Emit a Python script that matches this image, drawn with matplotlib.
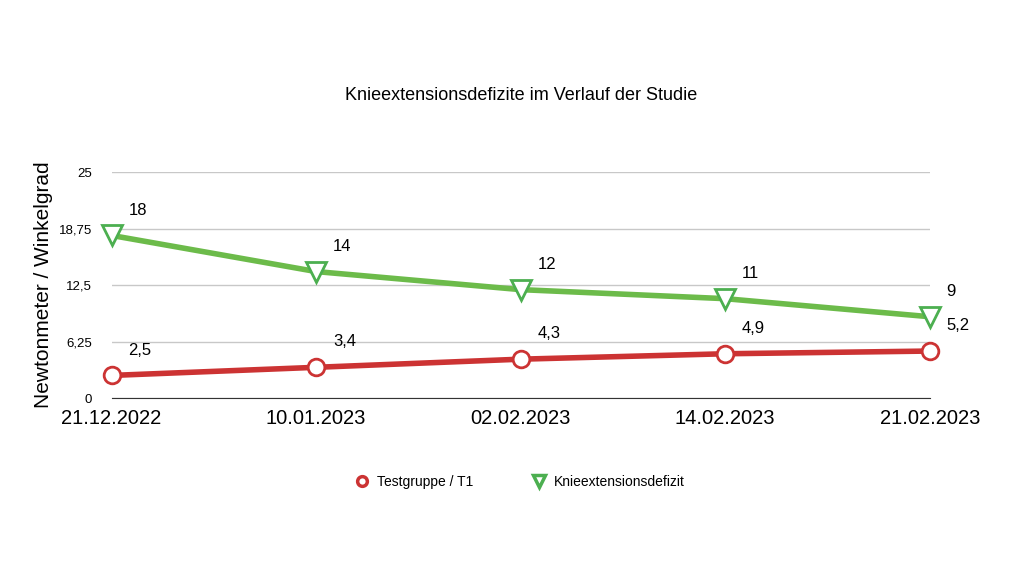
import matplotlib.pyplot as plt
from matplotlib.lines import Line2D
import numpy as np

dates = ['21.12.2022', '10.01.2023', '02.02.2023', '14.02.2023', '21.02.2023']
testgruppe = [2.5, 3.4, 4.3, 4.9, 5.2]
knie = [18, 14, 12, 11, 9]
testgruppe_labels = ['2,5', '3,4', '4,3', '4,9', '5,2']
knie_labels = ['18', '14', '12', '11', '9']
yticks = [0, 6.25, 12.5, 18.75, 25]
ytick_labels = ['0', '6,25', '12,5', '18,75', '25']

plt.rcParams['font.family'] = ['Liberation Sans', 'DejaVu Sans']

fig = plt.figure(figsize=(10.24, 5.76), dpi=100)
ax = fig.add_axes([0.109, 0.309, 0.799, 0.392])

x = np.arange(len(dates))
red = '#cc3333'
green = '#6cbb4a'

ax.plot(x, testgruppe, color=red, lw=4, marker='o', ms=12, mfc='white',
        mec=red, mew=2, zorder=3, clip_on=False)
ax.plot(x, knie, color=green, lw=4, marker='v', ms=14, mfc='white',
        mec='#4caf50', mew=2, zorder=3, clip_on=False)

for xi, v, t in zip(x, testgruppe, testgruppe_labels):
    ax.annotate(t, (xi, v), xytext=(12, 15), textcoords='offset points', fontsize=12)
for xi, v, t in zip(x, knie, knie_labels):
    ax.annotate(t, (xi, v), xytext=(12, 15), textcoords='offset points', fontsize=12)

ax.set_xlim(0, 4)
ax.set_ylim(0, 25)
ax.set_yticks(yticks)
ax.set_yticklabels(ytick_labels, fontsize=9.5)
ax.set_xticks(x)
ax.set_xticklabels(dates, fontsize=14.5)
ax.tick_params(length=0)
ax.tick_params(axis='x', pad=8)
ax.tick_params(axis='y', pad=14)
ax.grid(axis='y', color='#c8c8c8', lw=1)
ax.set_axisbelow(True)
for s in ['top', 'right', 'left']:
    ax.spines[s].set_visible(False)
ax.spines['bottom'].set_color('#333333')

ax.set_ylabel('Newtonmeter / Winkelgrad', fontsize=15)
ax.set_title('Knieextensionsdefizite im Verlauf der Studie', fontsize=13, pad=52)

handles = [
    Line2D([], [], ls='none', marker='o', ms=7, mfc='white', mec=red, mew=2.5),
    Line2D([], [], ls='none', marker='v', ms=8, mfc='white', mec='#4caf50', mew=2.5),
]
fig.legend(handles, ['Testgruppe / T1', 'Knieextensionsdefizit'], loc='center',
           bbox_to_anchor=(0.508, 0.164), ncol=2, frameon=False, fontsize=10,
           handlelength=1.0, handletextpad=0.6, columnspacing=4.2)

fig.savefig('out.png', dpi=100)
